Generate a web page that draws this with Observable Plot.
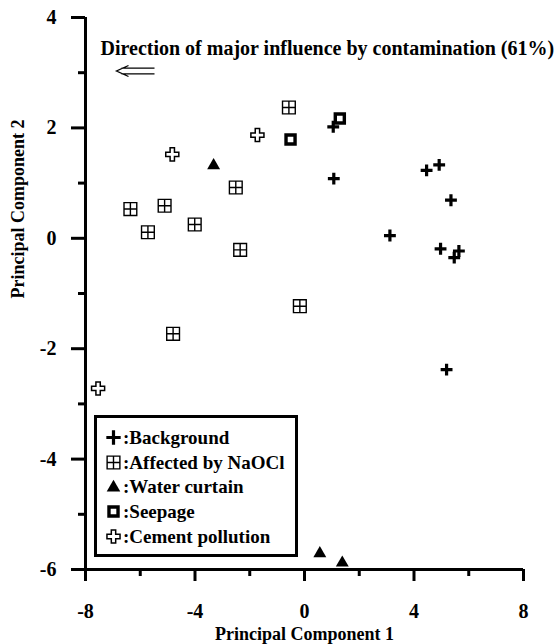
<!DOCTYPE html>
<html>
<head>
<meta charset="utf-8">
<script src="https://cdn.jsdelivr.net/npm/d3@7"></script>
<script src="https://cdn.jsdelivr.net/npm/@observablehq/plot@0.6"></script>
<style>
  body { margin: 0; background: #fff; }
  #wrap { position: relative; width: 555px; height: 644px; font-family: 'Liberation Serif', 'Times New Roman', 'DejaVu Serif', serif; }
  #wrap svg text { font-family: 'Liberation Serif', 'Times New Roman', 'DejaVu Serif', serif; font-weight: bold; }
  #legend { position: absolute; left: 94px; top: 415px; width: 198px; height: 136px; border: 3px solid #000; background: #fff;
            font-weight: bold; font-size: 19px; padding: 0; box-sizing: content-box; }
  #legend .row { position: absolute; left: 8px; height: 24px; line-height: 24px; white-space: nowrap; }
  #legend svg { vertical-align: middle; margin-right: 1px; position: relative; top: -2px; }
</style>
</head>
<body>
<div id="wrap"></div>
<script>
// ---- data ----
const seriesNames = ["Background", "Affected by NaOCl", "Water curtain", "Seepage", "Cement pollution"];
const backgroundX = [1.05, 1.07, 4.46, 4.92, 5.35, 3.12, 4.97, 5.64, 5.47, 5.19];
const backgroundY = [2.02, 1.08, 1.23, 1.33, 0.69, 0.05, -0.19, -0.23, -0.35, -2.38];
const naoclX = [-0.57, -2.51, -6.36, -5.11, -5.72, -4.01, -2.35, -4.80, -0.17];
const naoclY = [2.37, 0.92, 0.53, 0.59, 0.11, 0.25, -0.21, -1.73, -1.23];
const curtainX = [-3.32, 0.56, 1.38];
const curtainY = [1.32, -5.71, -5.88];
const seepageX = [-0.51, 1.29];
const seepageY = [1.79, 2.17];
const cementX = [-4.83, -1.72, -7.54];
const cementY = [1.52, 1.87, -2.72];
const xMajorTicks = [-8, -4, 0, 4, 8];
const xMinorTicks = [-6, -2, 2, 6];
const yMajorTicks = [-6, -4, -2, 0, 2, 4];
const yMinorTicks = [-5, -3, -1, 1, 3];
const xTitle = "Principal Component 1";
const yTitle = "Principal Component 2";
const annotation = "Direction of major influence by contamination (61%)";

const pts = (xs, ys) => xs.map((x, i) => ({x, y: ys[i]}));
const SERIF = "'Liberation Serif', 'Times New Roman', 'DejaVu Serif', serif";

// custom boxed-plus symbol
const boxPlus = {
  draw(ctx, size) {
    const r = Math.sqrt(size) / 2;
    ctx.moveTo(-r, -r); ctx.lineTo(r, -r); ctx.lineTo(r, r); ctx.lineTo(-r, r); ctx.closePath();
    ctx.moveTo(0, -r); ctx.lineTo(0, r);
    ctx.moveTo(-r, 0); ctx.lineTo(r, 0);
  }
};
// hollow leftwards double arrow glyph
const doubleArrow = {
  draw(ctx) {
    ctx.moveTo(-14, -2.8); ctx.lineTo(19, -2.8);
    ctx.moveTo(-14, 2.8); ctx.lineTo(19, 2.8);
    ctx.moveTo(-7, -5.5); ctx.lineTo(-19, 0); ctx.lineTo(-7, 5.5);
  }
};

const styles = [
  {symbol: "plus", r: 3.9, fill: "none", stroke: "#000", strokeWidth: 3.2},
  {symbol: boxPlus, r: 7.2, fill: "#fff", stroke: "#000", strokeWidth: 1.4},
  {symbol: "triangle", r: 4.8, fill: "#000", stroke: "none", strokeWidth: 0},
  {symbol: "square", r: 5.1, fill: "#fff", stroke: "#000", strokeWidth: 3.4},
  {symbol: "cross", r: 5.5, fill: "#fff", stroke: "#000", strokeWidth: 1.5}
];
const legendScale = [1.2, 1, 1.05, 1, 1];
const series = [pts(backgroundX, backgroundY), pts(naoclX, naoclY), pts(curtainX, curtainY), pts(seepageX, seepageY), pts(cementX, cementY)];
const fmt = d => String(d);

const chart = Plot.plot({
  width: 555,
  height: 644,
  marginLeft: 85,
  marginRight: 32,
  marginTop: 17,
  marginBottom: 75,
  style: {fontFamily: SERIF, fontWeight: "bold", fontSize: "20px", background: "#fff", color: "#000"},
  x: {domain: [-8, 8]},
  y: {domain: [-6, 4]},
  marks: [
    Plot.axisX(xMajorTicks, {tickSize: 12, tickPadding: 22, strokeWidth: 3, fontSize: 20, fontWeight: "bold", tickFormat: fmt, label: null}),
    Plot.axisX(xMinorTicks, {tickSize: 7, strokeWidth: 3, tickFormat: () => "", label: null}),
    Plot.axisY(yMajorTicks, {tickSize: 14, tickPadding: 15, strokeWidth: 3, fontSize: 20, fontWeight: "bold", tickFormat: fmt, label: null}),
    Plot.axisY(yMinorTicks, {tickSize: 7, strokeWidth: 3, tickFormat: () => "", label: null}),
    Plot.ruleY([-6], {strokeWidth: 3}),
    Plot.ruleX([-8], {strokeWidth: 3}),
    Plot.text([xTitle], {frameAnchor: "bottom", dy: 65, lineAnchor: "middle", fontSize: 18, fontWeight: "bold", fontFamily: SERIF}),
    Plot.text([yTitle], {frameAnchor: "left", dx: -67, dy: 5, rotate: -90, fontSize: 18, fontWeight: "bold", fontFamily: SERIF}),
    Plot.text([annotation], {frameAnchor: "top-left", dx: 15, dy: 31, textAnchor: "start", lineAnchor: "middle", fontSize: 20, fontWeight: "bold", fontFamily: SERIF}),
    Plot.dot([annotation], {frameAnchor: "top-left", dx: 50, dy: 53.5, symbol: doubleArrow, r: 5, fill: "none", stroke: "#000", strokeWidth: 1.3}),
    ...series.map((d, i) => Plot.dot(d, {x: "x", y: "y", ...styles[i]}))
  ]
});
const wrap = document.getElementById("wrap");
wrap.appendChild(chart);

// legend overlay
const legend = document.createElement("div");
legend.id = "legend";
seriesNames.forEach((name, i) => {
  const row = document.createElement("div");
  row.className = "row";
  row.style.top = (8 + i * 24.7) + "px";
  const s = styles[i];
  const sym = typeof s.symbol === "string" ? {plus: d3.symbolPlus, triangle: d3.symbolTriangle, square: d3.symbolSquare, cross: d3.symbolCross}[s.symbol] : s.symbol;
  const rr = s.r * legendScale[i];
  const path = d3.symbol(sym, rr * rr * Math.PI)();
  row.innerHTML = `<svg width="17" height="17" viewBox="-8.5 -8.5 17 17"><path d="${path}" fill="${s.fill}" stroke="${s.stroke}" stroke-width="${s.strokeWidth}"/></svg>:${name}`;
  legend.appendChild(row);
});
wrap.appendChild(legend);
</script>
</body>
</html>
